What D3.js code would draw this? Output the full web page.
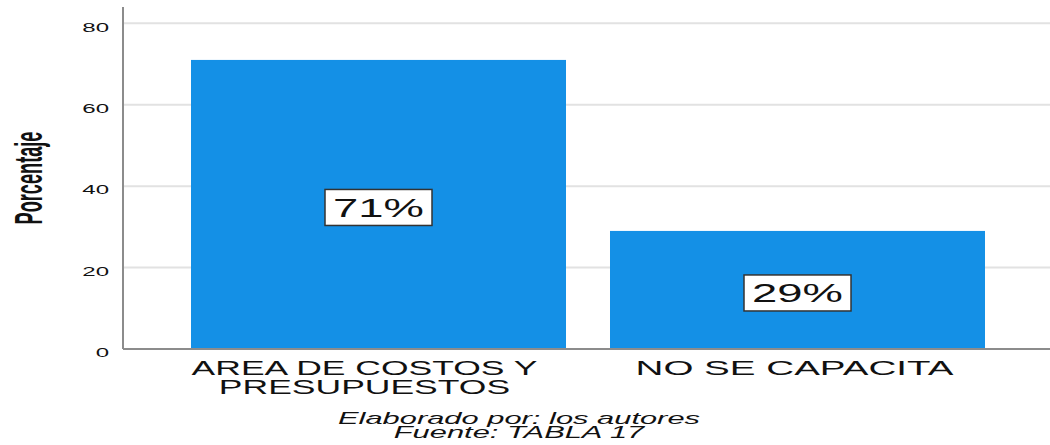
<!DOCTYPE html>
<html>
<head>
<meta charset="utf-8">
<script src="https://cdn.jsdelivr.net/npm/d3@7/dist/d3.min.js"></script>
<style>
  html, body { margin: 0; padding: 0; background: #ffffff; }
  svg { display: block; }
  text { font-family: "Liberation Sans", Arial, Helvetica, sans-serif; fill: #111; }
</style>
</head>
<body>
<svg id="chart" width="1050" height="445"></svg>
<script>
// Categories, values (percent) and axis ticks
const categories = ["AREA DE COSTOS Y PRESUPUESTOS", "NO SE CAPACITA"];
const categoryLines = [["AREA DE COSTOS Y", "PRESUPUESTOS"], ["NO SE CAPACITA"]];
const percentages = [71, 29];
const yTicks = [0, 20, 40, 60, 80];
const yTitle = "Porcentaje";
const footerLines = ["Elaborado por: los autores", "Fuente: TABLA 17"];

const svg = d3.select("#chart");

const plot = { left: 123, right: 1050, top: 7, bottom: 349 };
const barColor = "#1490e6";

// Widen text horizontally about its anchor point (x, y)
function widen(sel, factor) {
  sel.each(function (d, i) {
    const t = d3.select(this);
    const f = typeof factor === "function" ? factor.call(this, d, i) : factor;
    const ax = +t.attr("x") || 0;
    const ay = +t.attr("y") || 0;
    t.attr("transform", `translate(${ax},${ay}) scale(${f},1) translate(${-ax},${-ay})`);
  });
}

const y = d3.scaleLinear().domain([0, 84]).range([plot.bottom, plot.top]);
const x = d3.scaleBand()
  .domain(categories)
  .range([169, 1007])
  .paddingInner(0.105)
  .paddingOuter(0.0525);

// Horizontal grid lines
svg.append("g")
  .selectAll("line")
  .data(yTicks.filter(t => t > 0))
  .join("line")
  .attr("x1", plot.left).attr("x2", plot.right)
  .attr("y1", d => y(d)).attr("y2", d => y(d))
  .attr("stroke", "#e2e2e2")
  .attr("stroke-width", 2);

// Y axis with tick labels only
const yAxis = svg.append("g")
  .attr("transform", `translate(${plot.left},0)`)
  .call(d3.axisLeft(y).tickValues(yTicks).tickSize(0).tickPadding(14).tickFormat(d3.format("d")));
yAxis.select(".domain").remove();
yAxis.selectAll("text")
  .attr("font-size", 13)
  .attr("fill", "#222")
  .attr("dy", "0.6em")
  .style("font-family", "\"Liberation Sans\", Arial, sans-serif")
  .call(widen, 1.85);

// Bars
svg.append("g")
  .selectAll("rect")
  .data(categories)
  .join("rect")
  .attr("x", d => x(d))
  .attr("width", x.bandwidth())
  .attr("y", (d, i) => y(percentages[i]))
  .attr("height", (d, i) => y(0) - y(percentages[i]))
  .attr("fill", barColor);

// Axis lines
svg.append("line")
  .attr("x1", plot.left).attr("x2", plot.left)
  .attr("y1", plot.top).attr("y2", plot.bottom)
  .attr("stroke", "#8c8c8c").attr("stroke-width", 2);
svg.append("line")
  .attr("x1", plot.left).attr("x2", plot.right)
  .attr("y1", plot.bottom).attr("y2", plot.bottom)
  .attr("stroke", "#8c8c8c").attr("stroke-width", 2);

// Value labels in boxes at the middle of each bar
const labelFont = 25.5;
const boxW = 107, boxH = 36;
const labels = svg.append("g")
  .selectAll("g")
  .data(categories)
  .join("g")
  .attr("transform", (d, i) =>
    `translate(${x(d) + x.bandwidth() / 2},${y(percentages[i] / 2) + 3})`);
labels.append("rect")
  .attr("x", -boxW / 2).attr("y", -boxH / 2)
  .attr("width", boxW).attr("height", boxH)
  .attr("fill", "#ffffff")
  .attr("stroke", "#333")
  .attr("stroke-width", 1.5);
labels.append("text")
  .attr("text-anchor", "middle")
  .attr("x", 0)
  .attr("y", labelFont * 0.36)
  .attr("font-size", labelFont)
  .text((d, i) => `${percentages[i]}%`)
  .call(widen, 1.78);

// Category labels below the axis; the first line of each is widened to a set width
const catLineWidth = [346, 318];
const catText = svg.append("g")
  .selectAll("text")
  .data(categories)
  .join("text")
  .attr("text-anchor", "middle")
  .attr("font-size", 21)
  .attr("fill", "#1a1a1a")
  .attr("x", (d, i) => x(d) + x.bandwidth() / 2 - (categoryLines[i].length > 1 ? 14 : 3))
  .attr("y", 375);
catText.each(function (d, i) {
  const t = d3.select(this);
  categoryLines[i].forEach((line, j) => {
    t.append("tspan")
      .attr("x", t.attr("x"))
      .attr("y", 375 + j * 19)
      .text(line);
  });
});
catText.call(widen, function (d, i) {
  const first = this.querySelector("tspan");
  return catLineWidth[i] / first.getComputedTextLength();
});

// Y axis title: narrow along the text, wide across it
svg.append("text")
  .attr("transform", `translate(42,${(plot.top + plot.bottom) / 2}) rotate(-90) scale(0.79,1.7)`)
  .attr("text-anchor", "middle")
  .attr("font-size", 23)
  .attr("font-weight", "bold")
  .text(yTitle);

// Footer notes
svg.append("g")
  .selectAll("text")
  .data(footerLines)
  .join("text")
  .attr("x", 519)
  .attr("y", (d, i) => 424 + i * 14)
  .attr("text-anchor", "middle")
  .attr("font-size", 16)
  .attr("font-style", "italic")
  .attr("fill", "#222")
  .text(d => d)
  .call(widen, 1.93);
</script>
</body>
</html>
